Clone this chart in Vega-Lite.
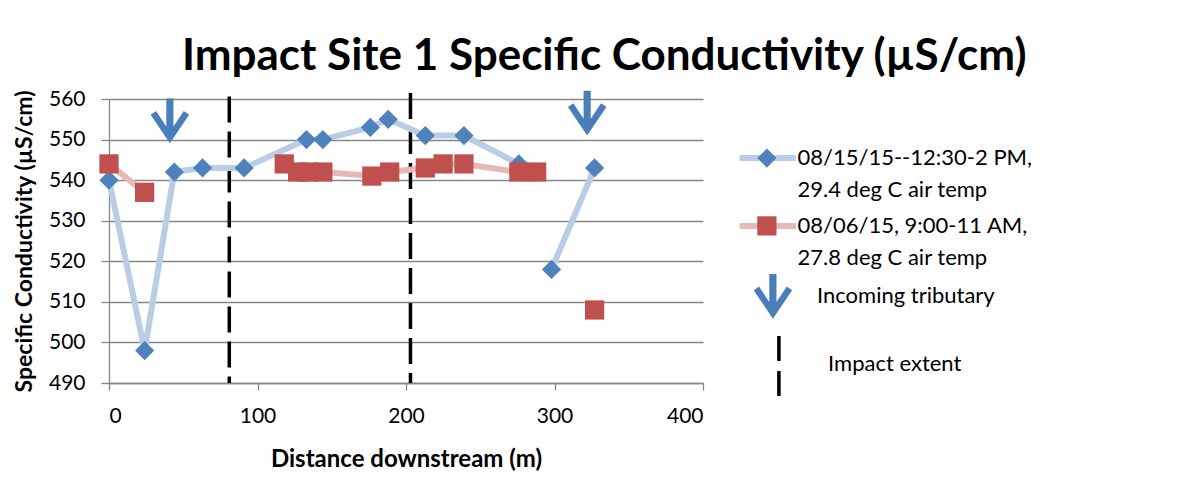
{
  "$schema": "https://vega.github.io/schema/vega-lite/v6.json",
  "background": "white",
  "padding": {"left": 13, "top": 35, "right": 5, "bottom": 5},
  "title": {
    "text": "Impact Site 1 Specific Conductivity (µS/cm)",
    "font": "Lato",
    "fontSize": 44,
    "fontWeight": "bold",
    "color": "black",
    "anchor": "middle",
    "offset": 9,
    "dx": 81
  },
  "datasets": {
    "cond": [
      {"series": "aug15", "dist": 0, "sc": 540},
      {"series": "aug15", "dist": 24, "sc": 498},
      {"series": "aug15", "dist": 44, "sc": 542},
      {"series": "aug15", "dist": 63, "sc": 543},
      {"series": "aug15", "dist": 91, "sc": 543},
      {"series": "aug15", "dist": 133, "sc": 550},
      {"series": "aug15", "dist": 144, "sc": 550},
      {"series": "aug15", "dist": 176, "sc": 553},
      {"series": "aug15", "dist": 188, "sc": 555},
      {"series": "aug15", "dist": 213, "sc": 551},
      {"series": "aug15", "dist": 239, "sc": 551},
      {"series": "aug15", "dist": 276, "sc": 544},
      {"series": "aug15", "dist": 287, "sc": null},
      {"series": "aug15", "dist": 298, "sc": 518},
      {"series": "aug15", "dist": 327, "sc": 543},
      {"series": "aug06", "dist": 0, "sc": 544},
      {"series": "aug06", "dist": 24, "sc": 537},
      {"series": "aug06", "dist": 63, "sc": null},
      {"series": "aug06", "dist": 118, "sc": 544},
      {"series": "aug06", "dist": 127, "sc": 542},
      {"series": "aug06", "dist": 134, "sc": 542},
      {"series": "aug06", "dist": 144, "sc": 542},
      {"series": "aug06", "dist": 177, "sc": 541},
      {"series": "aug06", "dist": 189, "sc": 542},
      {"series": "aug06", "dist": 213, "sc": 543},
      {"series": "aug06", "dist": 225, "sc": 544},
      {"series": "aug06", "dist": 239, "sc": 544},
      {"series": "aug06", "dist": 276, "sc": 542},
      {"series": "aug06", "dist": 288, "sc": 542},
      {"series": "aug06", "dist": 298, "sc": null},
      {"series": "aug06", "dist": 327, "sc": 508}
    ],
    "tribs": [
      {"dist": 41, "sc": 554.6},
      {"dist": 322, "sc": 556.5}
    ],
    "extent": [
      {"dist": 81, "top": 560.6, "bottom": 490},
      {"dist": 203, "top": 561.5, "bottom": 490}
    ],
    "legend": [
      {"item": "aug15", "row": 1.97, "label": "08/15/15--12:30-2 PM,\n29.4 deg C air temp"},
      {"item": "aug06", "row": 4.23, "label": "08/06/15, 9:00-11 AM,\n27.8 deg C air temp"},
      {"item": "trib", "row": 6.58, "label": "Incoming tributary"},
      {"item": "extent", "row": 7.9, "label": "Impact extent"}
    ]
  },
  "hconcat": [
    {
      "width": 594,
      "height": 284,
      "layer": [
        {
          "data": {"name": "extent"},
          "mark": {"type": "rule", "color": "black", "strokeWidth": 3.5, "strokeDash": [26, 9], "clip": false},
          "encoding": {
            "x": {
              "field": "dist", "type": "quantitative",
              "scale": {"domain": [0, 400], "nice": false},
              "axis": {
                "title": "Distance downstream (m)",
                "values": [0, 100, 200, 300, 400],
                "grid": false,
                "domainColor": "#878787",
                "domainWidth": 1.3,
                "tickColor": "#878787",
                "tickWidth": 1.3,
                "tickSize": 7,
                "labelFont": "Lato",
                "labelFontSize": 21,
                "labelColor": "black",
                "labelPadding": 15,
                "titleFont": "Lato",
                "titleFontSize": 24,
                "titleFontWeight": "bold",
                "titleColor": "black",
                "titlePadding": 21
              }
            },
            "y": {
              "field": "top", "type": "quantitative",
              "scale": {"domain": [490, 560], "nice": false},
              "axis": {
                "title": "Specific Conductivity (µS/cm)",
                "values": [490, 500, 510, 520, 530, 540, 550, 560],
                "grid": true,
                "gridColor": "#878787",
                "gridWidth": 1.3,
                "domainColor": "#878787",
                "domainWidth": 1.3,
                "tickColor": "#878787",
                "tickWidth": 1.3,
                "tickSize": 8,
                "labelFont": "Lato",
                "labelFontSize": 21,
                "labelColor": "black",
                "labelPadding": 16,
                "titleFont": "Lato",
                "titleFontSize": 23,
                "titleFontWeight": "bold",
                "titleColor": "black",
                "titlePadding": 12
              }
            },
            "y2": {"field": "bottom"}
          }
        },
        {
          "data": {"name": "cond"},
          "mark": {"type": "line", "strokeWidth": 6, "invalid": "break-paths-show-domains"},
          "encoding": {
            "x": {"field": "dist", "type": "quantitative"},
            "y": {"field": "sc", "type": "quantitative"},
            "stroke": {
              "field": "series", "type": "nominal",
              "scale": {"domain": ["aug15", "aug06"], "range": ["#B9CDE5", "#E6B9B8"]},
              "legend": null
            },
            "order": {"field": "dist", "type": "quantitative"}
          }
        },
        {
          "data": {"name": "cond"},
          "mark": {"type": "point", "filled": true, "opacity": 1, "size": 370, "strokeWidth": 0},
          "encoding": {
            "x": {"field": "dist", "type": "quantitative"},
            "y": {"field": "sc", "type": "quantitative"},
            "shape": {
              "field": "series", "type": "nominal",
              "scale": {"domain": ["aug15", "aug06"], "range": ["diamond", "square"]},
              "legend": null
            },
            "fill": {
              "field": "series", "type": "nominal",
              "scale": {"domain": ["aug15", "aug06"], "range": ["#4F81BD", "#C0504D"]},
              "legend": null
            }
          }
        },
        {
          "data": {"name": "tribs"},
          "mark": {
            "type": "point",
            "filled": true,
            "opacity": 1,
            "strokeWidth": 0,
            "size": 2000,
            "clip": false,
            "color": "#4A7EBB",
            "shape": "M -0.16 -1 L 0.16 -1 L 0.16 0.245 L 0.62 -0.44 L 0.86 -0.28 L 0 1 L -0.86 -0.28 L -0.62 -0.44 L -0.16 0.245 Z"
          },
          "encoding": {
            "x": {"field": "dist", "type": "quantitative"},
            "y": {"field": "sc", "type": "quantitative"}
          }
        }
      ]
    },
    {
      "width": 300,
      "height": 300,
      "data": {"name": "legend"},
      "layer": [
        {
          "transform": [{"filter": "datum.item === 'aug15' || datum.item === 'aug06'"}],
          "mark": {"type": "rule", "strokeWidth": 6},
          "encoding": {
            "x": {"datum": 0.22, "type": "quantitative", "scale": {"domain": [0, 10], "nice": false}, "axis": null},
            "x2": {"datum": 2.1},
            "y": {"field": "row", "type": "quantitative", "scale": {"domain": [0, 10], "nice": false, "reverse": true}, "axis": null},
            "stroke": {
              "field": "item", "type": "nominal",
              "scale": {"domain": ["aug15", "aug06"], "range": ["#B9CDE5", "#E6B9B8"]},
              "legend": null
            }
          }
        },
        {
          "transform": [{"filter": "datum.item === 'aug15' || datum.item === 'aug06'"}],
          "mark": {"type": "point", "filled": true, "opacity": 1, "size": 370, "strokeWidth": 0},
          "encoding": {
            "x": {"datum": 1.13, "type": "quantitative"},
            "y": {"field": "row", "type": "quantitative"},
            "shape": {
              "field": "item", "type": "nominal",
              "scale": {"domain": ["aug15", "aug06"], "range": ["diamond", "square"]},
              "legend": null
            },
            "fill": {
              "field": "item", "type": "nominal",
              "scale": {"domain": ["aug15", "aug06"], "range": ["#4F81BD", "#C0504D"]},
              "legend": null
            }
          }
        },
        {
          "transform": [{"filter": "datum.item === 'aug15' || datum.item === 'aug06'"}],
          "mark": {"type": "text", "align": "left", "baseline": "middle", "font": "Lato", "fontSize": 22, "lineBreak": "\n", "lineHeight": 32, "color": "black"},
          "encoding": {
            "x": {"datum": 2.15, "type": "quantitative"},
            "y": {"field": "row", "type": "quantitative"},
            "text": {"field": "label"}
          }
        },
        {
          "transform": [{"filter": "datum.item === 'trib'"}],
          "mark": {
            "type": "point",
            "filled": true,
            "opacity": 1,
            "strokeWidth": 0,
            "size": 2000,
            "color": "#4A7EBB",
            "shape": "M -0.16 -1 L 0.16 -1 L 0.16 0.245 L 0.62 -0.44 L 0.86 -0.28 L 0 1 L -0.86 -0.28 L -0.62 -0.44 L -0.16 0.245 Z"
          },
          "encoding": {
            "x": {"datum": 1.33, "type": "quantitative"},
            "y": {"field": "row", "type": "quantitative"}
          }
        },
        {
          "transform": [{"filter": "datum.item === 'trib'"}],
          "mark": {"type": "text", "align": "left", "baseline": "middle", "font": "Lato", "fontSize": 22, "color": "black"},
          "encoding": {
            "x": {"datum": 2.8, "type": "quantitative"},
            "y": {"field": "row", "type": "quantitative"},
            "text": {"field": "label"}
          }
        },
        {
          "transform": [{"filter": "datum.item === 'extent'"}],
          "mark": {"type": "rule", "color": "black", "strokeWidth": 3.5, "strokeDash": [25, 10]},
          "encoding": {
            "x": {"datum": 1.53, "type": "quantitative"},
            "y": {"field": "row", "type": "quantitative"},
            "y2": {"datum": 9.9}
          }
        },
        {
          "transform": [{"filter": "datum.item === 'extent'"}],
          "mark": {"type": "text", "align": "left", "baseline": "middle", "font": "Lato", "fontSize": 22, "color": "black", "dy": 28},
          "encoding": {
            "x": {"datum": 3.17, "type": "quantitative"},
            "y": {"field": "row", "type": "quantitative"},
            "text": {"field": "label"}
          }
        }
      ]
    }
  ],
  "spacing": 30,
  "bounds": "flush",
  "config": {
    "view": {"stroke": null},
    "font": "Lato"
  }
}
